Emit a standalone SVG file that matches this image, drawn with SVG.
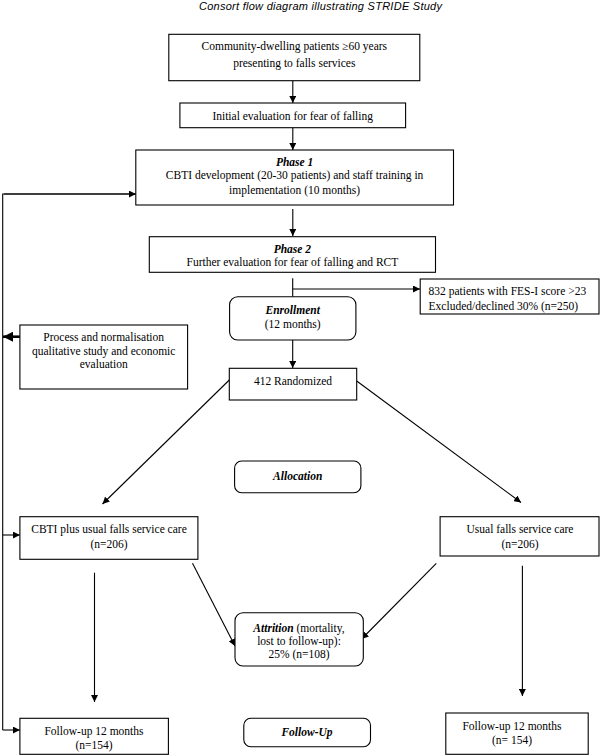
<svg xmlns="http://www.w3.org/2000/svg" width="600" height="756" viewBox="0 0 600 756">
<defs>
<marker id="ah" viewBox="0 0 10 10" refX="10" refY="5" markerWidth="7" markerHeight="7" markerUnits="userSpaceOnUse" orient="auto"><path d="M0,0 L10,5 L0,10 z" fill="#000"/></marker>
<marker id="ahb" viewBox="0 0 10 10" refX="10" refY="5" markerWidth="4" markerHeight="4" orient="auto"><path d="M0,0 L10,5 L0,10 z" fill="#000"/></marker>
<style>
.box{fill:#fff;stroke:#000;stroke-width:1.1}
.t{font-family:"Liberation Serif","Times New Roman",serif;font-size:11.5px;fill:#000;text-anchor:middle}
.bi{font-weight:bold;font-style:italic}
.ln{fill:none;stroke:#000;stroke-width:1.1}
.ar{fill:none;stroke:#000;stroke-width:1.1;marker-end:url(#ah)}
</style>
</defs>
<rect width="600" height="756" fill="#fff"/>
<text x="320.5" y="10" style="font-family:'Liberation Sans',Arial,sans-serif;font-size:11px;font-style:italic;text-anchor:middle" textLength="243">Consort flow diagram illustrating STRIDE Study</text>

<g id="connectors">
<line class="ar" x1="292.8" y1="80.7" x2="292.8" y2="103"/>
<line class="ar" x1="292.8" y1="127.7" x2="292.8" y2="150"/>
<line class="ar" x1="292.8" y1="209" x2="292.8" y2="236"/>
<line class="ln" x1="292.7" y1="278.3" x2="292.7" y2="296.7"/>
<line class="ar" x1="292.7" y1="289" x2="420" y2="289"/>
<line class="ar" x1="292.7" y1="340" x2="292.7" y2="368"/>
<polyline class="ln" points="135.8,194 2.7,194 2.7,730"/>
<line class="ar" x1="4" y1="194" x2="135.8" y2="194"/>
<line class="ar" x1="2.7" y1="535" x2="19.9" y2="535"/>
<line class="ar" x1="2.7" y1="730" x2="19.9" y2="730"/>
<line x1="19.9" y1="336.7" x2="3" y2="336.7" stroke="#000" stroke-width="2.6" marker-end="url(#ahb)"/>
<line class="ar" x1="229.3" y1="380" x2="102.5" y2="504"/>
<line class="ar" x1="356.7" y1="381" x2="521" y2="502.5"/>
<line class="ar" x1="94.5" y1="572.7" x2="94.5" y2="702"/>
<line class="ar" x1="192.5" y1="563.3" x2="235" y2="646"/>
<line class="ar" x1="436.3" y1="563.3" x2="361.6" y2="639"/>
<line class="ar" x1="522.4" y1="565.7" x2="522.4" y2="696"/>
</g>

<g id="n1">
<rect class="box" x="168.8" y="34.3" width="251" height="46.4"/>
<text class="t" x="294.3" y="50">Community-dwelling patients ≥60 years</text>
<text class="t" x="294.3" y="66.5">presenting to falls services</text>
</g>
<g id="n2">
<rect class="box" x="179.9" y="103" width="225.7" height="24.7"/>
<text class="t" x="292.7" y="119.5">Initial evaluation for fear of falling</text>
</g>
<g id="n3">
<rect class="box" x="135.8" y="150" width="317.7" height="55"/>
<text class="t bi" x="294.6" y="166">Phase 1</text>
<text class="t" x="294.6" y="179">CBTI development (20-30 patients) and staff training in</text>
<text class="t" x="294.6" y="193.5">implementation (10 months)</text>
</g>
<g id="n4">
<rect class="box" x="149.3" y="236.7" width="286.2" height="35.6"/>
<text class="t bi" x="292.4" y="252.5">Phase 2</text>
<text class="t" x="292.4" y="266">Further evaluation for fear of falling and RCT</text>
</g>
<g id="n5">
<rect class="box" x="420.2" y="279" width="178.8" height="35"/>
<text class="t" x="428.6" y="295" style="text-anchor:start">832 patients with FES-I score &gt;23</text>
<text class="t" x="428.6" y="310" style="text-anchor:start">Excluded/declined 30% (n=250)</text>
</g>
<g id="n6">
<rect class="box" x="229.6" y="296.7" width="126.3" height="43.3" rx="8"/>
<text class="t bi" x="292.7" y="314">Enrollment</text>
<text class="t" x="292.7" y="327.5">(12 months)</text>
</g>
<g id="n7">
<rect class="box" x="19.9" y="325" width="167.7" height="64"/>
<text class="t" x="103.7" y="341">Process and normalisation</text>
<text class="t" x="103.7" y="355">qualitative study and economic</text>
<text class="t" x="103.7" y="368">evaluation</text>
</g>
<g id="n8">
<rect class="box" x="229.3" y="368.3" width="127.4" height="31.7"/>
<text class="t" x="293" y="384.5">412 Randomized</text>
</g>
<g id="n9">
<rect class="box" x="234.6" y="461" width="126.3" height="31.7" rx="7"/>
<text class="t bi" x="297.7" y="479.5">Allocation</text>
</g>
<g id="n10">
<rect class="box" x="19.9" y="516.7" width="178" height="42.6"/>
<text class="t" x="109" y="533">CBTI plus usual falls service care</text>
<text class="t" x="109" y="547.5">(n=206)</text>
</g>
<g id="n11">
<rect class="box" x="440.1" y="516.7" width="158.9" height="39.3"/>
<text class="t" x="520" y="533">Usual falls service care</text>
<text class="t" x="520" y="547.5">(n=206)</text>
</g>
<g id="n12">
<rect class="box" x="235" y="612.7" width="128.3" height="53.3" rx="8"/>
<text class="t" x="299" y="632"><tspan class="bi">Attrition</tspan> (mortality,</text>
<text class="t" x="299" y="645">lost to follow-up):</text>
<text class="t" x="299" y="658">25% (n=108)</text>
</g>
<g id="n13">
<rect class="box" x="19.9" y="718.3" width="148.5" height="36"/>
<text class="t" x="94" y="734.5">Follow-up 12 months</text>
<text class="t" x="94" y="748.5">(n=154)</text>
</g>
<g id="n14">
<rect class="box" x="243.8" y="718.3" width="126.7" height="28.4" rx="7"/>
<text class="t bi" x="307" y="736">Follow-Up</text>
</g>
<g id="n15">
<rect class="box" x="445.8" y="713" width="142.4" height="41.3"/>
<text class="t" x="512" y="729.5">Follow-up 12 months</text>
<text class="t" x="512" y="743.5">(n= 154)</text>
</g>
</svg>
